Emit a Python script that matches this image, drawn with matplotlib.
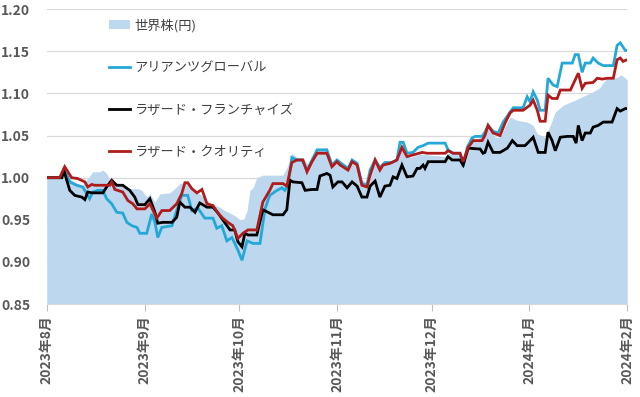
import matplotlib
matplotlib.use("Agg")
import matplotlib.pyplot as plt
import matplotlib.dates as mdates
import pandas as pd

plt.rcParams['font.family'] = ['Noto Sans CJK JP', 'DejaVu Sans']

BASE_DATE = pd.Timestamp('2023-08-01')

# ── values, day offsets counted from 2023-08-01 ──
world_days = [0, 4.8, 5.4, 7.9, 9.8, 11.4, 13.0, 14.6, 16.8, 17.8, 19.0, 20.0, 21.6, 23.2,
              25.4, 28.9, 30.1, 31.7, 32.7, 34.3, 35.9, 39.0, 40.6, 42.2, 43.8, 45.4, 47.0,
              48.5, 50.1, 51.7, 53.3, 54.9, 56.4, 58.1, 59.6, 61.2, 62.5, 63.5, 64.4, 65.4,
              66.6, 68.5, 74.9, 76.5, 77.7, 79.3, 81.2, 82.8, 85.7, 88.8, 90.4, 92.0, 93.0,
              95.5, 96.8, 98.4, 99.9, 101.5, 102.5, 104.1, 105.6, 107.2, 110.3, 112.0, 113.6,
              115.2, 116.7, 118.3, 126.3, 127.2, 131.0, 132.0, 134.2, 137.4, 139.9, 142.1,
              143.7, 145.3, 146.9, 149.1, 152.3, 154.2, 155.5, 158.0, 159.6, 161.2, 163.7,
              167.5, 169.7, 173.2, 175.4, 176.4, 177.7, 179.6, 180.8, 182.1, 183.4, 184.0]
world_vals = [1.000, 1.000, 1.011, 0.997, 0.993, 0.991, 0.999, 1.007, 1.007, 1.009, 1.005, 0.997,
              0.993, 0.991, 0.987, 0.987, 0.985, 0.977, 0.981, 0.971, 0.981, 0.982, 0.987, 0.993,
              0.994, 0.992, 0.982, 0.981, 0.975, 0.970, 0.967, 0.965, 0.961, 0.958, 0.955, 0.950,
              0.951, 0.961, 0.985, 0.988, 1.000, 1.003, 1.003, 1.015, 1.029, 1.024, 1.024, 1.015,
              1.035, 1.035, 1.017, 1.023, 1.013, 1.009, 1.017, 1.013, 0.997, 0.994, 1.006, 1.021,
              1.011, 1.017, 1.018, 1.033, 1.030, 1.024, 1.026, 1.028, 1.025, 1.029, 1.027, 1.011,
              1.041, 1.048, 1.060, 1.048, 1.048, 1.060, 1.072, 1.068, 1.066, 1.062, 1.052, 1.048,
              1.062, 1.078, 1.086, 1.092, 1.096, 1.102, 1.107, 1.113, 1.118, 1.118, 1.119, 1.122,
              1.118, 1.116]

allianz_days = [0, 4.8, 5.4, 7.3, 9.5, 11.4, 13.6, 14.6, 16.2, 17.8, 19.0, 20.6, 22.2, 24.1,
                25.4, 27.0, 28.6, 29.5, 31.7, 33.3, 34.3, 35.2, 36.5, 39.7, 41.2, 42.8, 44.7,
                46.0, 47.9, 50.1, 52.7, 53.9, 55.5, 57.1, 58.7, 59.6, 60.6, 61.9, 63.5, 65.4,
                67.6, 69.2, 70.7, 73.0, 74.6, 75.5, 76.5, 77.7, 79.3, 80.9, 82.5, 84.1, 85.7,
                88.8, 90.4, 92.0, 93.0, 95.5, 96.8, 98.4, 99.9, 101.5, 102.5, 104.1, 105.6,
                107.2, 109.5, 111.0, 112.0, 113.0, 114.2, 116.1, 117.7, 119.3, 120.9, 126.3,
                127.2, 128.8, 131.0, 132.0, 133.3, 134.8, 135.8, 138.0, 138.9, 139.9, 141.5,
                143.1, 144.7, 146.9, 147.9, 151.0, 152.3, 153.2, 154.2, 155.5, 156.4, 158.0,
                158.9, 160.5, 161.8, 163.4, 166.6, 167.5, 168.5, 169.7, 170.7, 172.3, 173.2,
                174.8, 176.4, 179.6, 180.8, 181.8, 183.4, 184.0]
allianz_vals = [1.000, 1.000, 1.011, 0.995, 0.991, 0.989, 0.975, 0.983, 0.985, 0.985, 0.975,
                0.969, 0.959, 0.958, 0.947, 0.943, 0.941, 0.934, 0.934, 0.957, 0.947, 0.929,
                0.941, 0.943, 0.961, 0.979, 0.979, 0.961, 0.964, 0.952, 0.952, 0.940, 0.943,
                0.925, 0.929, 0.922, 0.914, 0.902, 0.925, 0.922, 0.922, 0.963, 0.979, 0.985,
                0.988, 0.985, 0.991, 1.024, 1.021, 1.021, 1.009, 1.021, 1.033, 1.033, 1.015,
                1.021, 1.018, 1.011, 1.021, 1.017, 0.993, 0.991, 1.009, 1.021, 1.012, 1.018,
                1.018, 1.021, 1.042, 1.042, 1.029, 1.030, 1.036, 1.038, 1.041, 1.041, 1.033,
                1.029, 1.029, 1.013, 1.036, 1.047, 1.049, 1.049, 1.054, 1.062, 1.055, 1.053,
                1.066, 1.078, 1.083, 1.083, 1.096, 1.090, 1.102, 1.092, 1.080, 1.080, 1.118,
                1.110, 1.108, 1.136, 1.136, 1.146, 1.146, 1.125, 1.136, 1.136, 1.142, 1.136,
                1.133, 1.133, 1.157, 1.160, 1.151, 1.151]

franchise_days = [0, 4.8, 5.4, 7.3, 8.9, 11.1, 12.1, 13.0, 14.3, 17.8, 19.0, 20.6, 22.2, 24.1,
                  26.3, 27.9, 28.9, 31.1, 32.7, 34.3, 35.2, 36.8, 39.7, 41.2, 42.2, 43.8, 45.4,
                  47.0, 48.5, 50.8, 52.7, 54.3, 55.8, 58.1, 59.6, 60.6, 61.9, 62.8, 63.8, 66.6,
                  68.5, 70.1, 71.7, 74.9, 76.1, 77.1, 78.0, 80.9, 81.9, 84.1, 85.7, 86.6, 88.8,
                  89.8, 90.7, 92.3, 93.6, 95.2, 96.8, 98.4, 99.9, 101.5, 102.5, 104.1, 105.6,
                  107.2, 108.8, 109.8, 111.0, 112.6, 114.2, 116.1, 117.4, 118.3, 119.3, 119.9,
                  120.9, 126.3, 127.2, 128.5, 131.0, 132.0, 133.6, 137.4, 138.3, 138.9, 139.9,
                  141.5, 143.7, 146.0, 147.6, 149.1, 151.6, 153.2, 154.2, 155.8, 158.0, 158.9,
                  160.2, 161.2, 162.8, 165.0, 166.9, 167.8, 168.5, 169.7, 170.7, 172.3, 173.2,
                  174.8, 176.4, 179.2, 180.8, 181.8, 183.4, 184.0]
franchise_vals = [1.000, 1.000, 1.009, 0.985, 0.979, 0.977, 0.974, 0.983, 0.982, 0.982, 0.989,
                  0.997, 0.991, 0.991, 0.985, 0.977, 0.968, 0.968, 0.975, 0.959, 0.946, 0.947,
                  0.947, 0.953, 0.971, 0.965, 0.965, 0.959, 0.970, 0.965, 0.965, 0.958, 0.950,
                  0.938, 0.938, 0.924, 0.918, 0.934, 0.932, 0.932, 0.962, 0.959, 0.956, 0.956,
                  0.962, 0.997, 0.995, 0.994, 0.985, 0.986, 0.986, 1.002, 1.005, 1.003, 0.989,
                  0.995, 0.995, 0.988, 0.995, 0.990, 0.977, 0.977, 0.990, 0.996, 0.977, 0.990,
                  0.991, 1.001, 0.999, 1.015, 1.001, 1.002, 1.011, 1.011, 1.015, 1.011, 1.019,
                  1.019, 1.025, 1.021, 1.021, 1.015, 1.035, 1.034, 1.029, 1.030, 1.042, 1.030,
                  1.030, 1.035, 1.044, 1.038, 1.038, 1.044, 1.048, 1.030, 1.030, 1.054, 1.044,
                  1.032, 1.048, 1.049, 1.049, 1.041, 1.062, 1.044, 1.053, 1.053, 1.060, 1.062,
                  1.066, 1.066, 1.082, 1.079, 1.082, 1.082]

quality_days = [0, 4.1, 5.7, 7.9, 9.8, 12.1, 13.0, 14.3, 15.2, 20.0, 20.6, 21.6, 24.1, 25.7,
                27.3, 28.6, 31.1, 32.7, 34.9, 36.5, 39.0, 41.2, 42.8, 43.8, 44.7, 46.0, 47.6,
                49.2, 50.8, 52.7, 54.3, 55.8, 57.4, 59.0, 60.6, 62.2, 63.8, 66.6, 68.5, 70.7,
                71.7, 74.9, 76.1, 77.7, 79.3, 81.2, 82.5, 84.1, 85.7, 88.8, 90.4, 92.0, 93.0,
                95.5, 96.8, 98.4, 99.9, 101.5, 102.5, 104.1, 105.6, 106.6, 108.8, 111.0, 112.6,
                114.2, 116.1, 119.0, 120.6, 126.3, 127.2, 128.8, 131.0, 132.0, 133.6, 135.2,
                138.0, 138.9, 139.9, 141.5, 143.7, 145.3, 146.9, 147.9, 151.0, 153.2, 154.2,
                155.5, 156.4, 158.0, 158.9, 160.2, 161.8, 162.8, 166.0, 167.5, 168.5, 169.7,
                170.7, 173.2, 174.5, 176.1, 177.7, 179.6, 180.8, 181.8, 182.7, 184.0]
quality_vals = [1.000, 1.000, 1.013, 1.000, 0.999, 0.995, 0.989, 0.992, 0.991, 0.991, 0.995,
                0.986, 0.983, 0.973, 0.969, 0.963, 0.963, 0.969, 0.952, 0.961, 0.961, 0.969,
                0.981, 0.994, 0.994, 0.987, 0.982, 0.986, 0.969, 0.967, 0.958, 0.952, 0.947,
                0.943, 0.928, 0.934, 0.938, 0.938, 0.971, 0.985, 0.993, 0.993, 0.990, 1.018,
                1.021, 1.021, 1.007, 1.019, 1.029, 1.029, 1.013, 1.019, 1.015, 1.009, 1.019,
                1.015, 0.991, 0.989, 1.003, 1.021, 1.009, 1.015, 1.017, 1.021, 1.036, 1.025,
                1.027, 1.030, 1.029, 1.029, 1.032, 1.029, 1.029, 1.019, 1.036, 1.044, 1.044,
                1.050, 1.062, 1.053, 1.050, 1.065, 1.077, 1.080, 1.080, 1.086, 1.092, 1.080,
                1.067, 1.067, 1.098, 1.094, 1.094, 1.104, 1.104, 1.116, 1.124, 1.106, 1.112,
                1.113, 1.118, 1.117, 1.118, 1.118, 1.140, 1.142, 1.138, 1.140]

LABELS = ['世界株(円)', 'アリアンツグローバル', 'ラザード・フランチャイズ', 'ラザード・クオリティ']
Y_TICKS = [0.85, 0.90, 0.95, 1.00, 1.05, 1.10, 1.15, 1.20]
MONTH_TICKS = ['2023-08-01', '2023-09-01', '2023-10-01', '2023-11-01',
               '2023-12-01', '2024-01-01', '2024-02-01']

AREA_COLOR = '#BDD7EE'
LINE_COLORS = ['#24A8D8', '#000000', '#B01C1C']
TEXT_COLOR = '#595959'


def to_dates(days):
    return BASE_DATE + pd.to_timedelta(days, unit='D')


fig = plt.figure(figsize=(6.4, 3.97), dpi=100)
ax = fig.add_axes([0.073, 0.234, 0.907, 0.743])

ax.fill_between(to_dates(world_days), world_vals, 0.85, color=AREA_COLOR,
                linewidth=0, label=LABELS[0], zorder=1)
series = [(allianz_days, allianz_vals), (franchise_days, franchise_vals),
          (quality_days, quality_vals)]
for (d, v), col, lab in zip(series, LINE_COLORS, LABELS[1:]):
    ax.plot(to_dates(d), v, color=col, linewidth=2.0, label=lab, zorder=3,
            solid_joinstyle='miter')

ax.set_ylim(0.85, 1.20)
ax.set_yticks(Y_TICKS)
ax.set_yticklabels([f'{t:.2f}' for t in Y_TICKS], fontsize=10,
                   fontweight='bold', color=TEXT_COLOR)
ax.grid(axis='y', color='#D9D9D9', linewidth=0.9, zorder=0)
ax.set_axisbelow(True)

ticks = pd.to_datetime(MONTH_TICKS)
ax.set_xlim(ticks[0], ticks[-1])
ax.set_xticks(ticks)
ax.set_xticklabels([f'{t.year}年{t.month}月' for t in ticks], rotation=90,
                   fontsize=10, fontweight='bold', color=TEXT_COLOR)
ax.tick_params(axis='y', length=0, pad=12)
ax.tick_params(axis='x', length=5, color='#BFBFBF', pad=3)

for s in ['top', 'right', 'left']:
    ax.spines[s].set_visible(False)
ax.spines['bottom'].set_color('#D9D9D9')

leg = ax.legend(loc='upper left', bbox_to_anchor=(0.09, 1.0), frameon=False,
                fontsize=9.5, labelspacing=2.2, handlelength=1.6,
                handletextpad=0.3, borderaxespad=0.35)
for t in leg.get_texts():
    t.set_color('#404040')

fig.savefig('out.png', dpi=100)
